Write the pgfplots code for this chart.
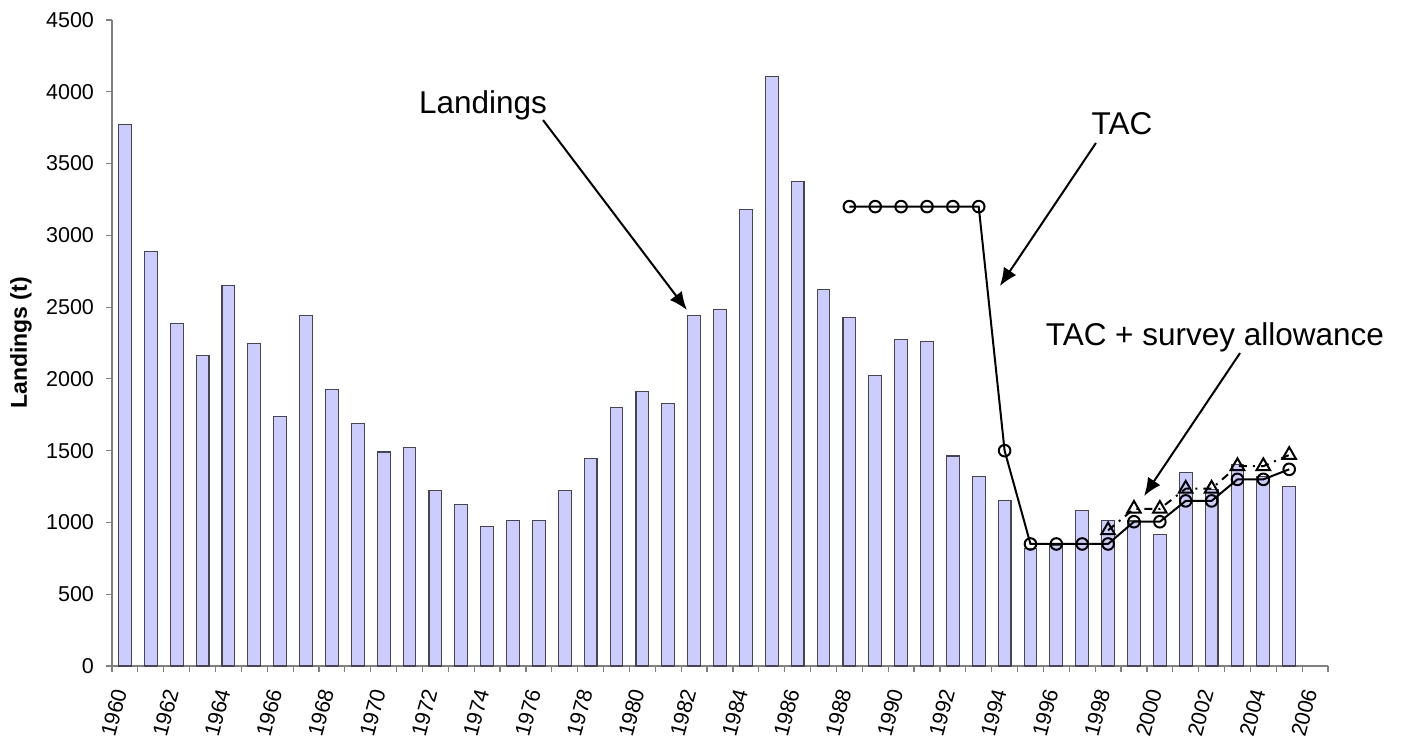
\documentclass[border=0pt]{standalone}
\usepackage{fontspec}
\setmainfont{Liberation Sans}
\usepackage{pgfplots}
\pgfplotsset{compat=1.18}
\usetikzlibrary{arrows.meta}
\definecolor{barfill}{RGB}{204,204,255}
\definecolor{baredge}{RGB}{70,70,80}
\definecolor{axgray}{RGB}{128,128,128}
\begin{document}
\begin{tikzpicture}
\begin{axis}[
  at={(0,0)}, anchor=south west,
  scale only axis, width=608pt, height=323pt,
  xmin=-0.5, xmax=46.5, ymin=0, ymax=4500,
  clip=false,
  axis x line*=bottom, axis y line*=left,
  axis line style={draw=axgray, line width=0.6pt},
  tick align=outside,
  ytick={0,500,...,4500},
  /pgf/number format/1000 sep={},
  /pgf/number format/assume math mode=true,
  ytick style={draw=axgray, line width=0.6pt},
  major tick length=3pt,
  minor tick length=3pt,
  xtick={0,2,...,46},
  xticklabels={1960,1962,1964,1966,1968,1970,1972,1974,1976,1978,1980,1982,1984,1986,1988,1990,1992,1994,1996,1998,2000,2002,2004,2006},
  major x tick style={draw=none},
  minor xtick={-0.5,0.5,...,46.5},
  minor x tick style={draw=axgray, line width=0.6pt},
  tick label style={font=\fontsize{10.75}{12}\selectfont, text=black},
  yticklabel style={xshift=-2.5pt},
  xticklabel style={xshift=-1.5pt, yshift=-5.5pt, rotate=75, anchor=east},
  ylabel={\bfseries Landings (t)},
  ylabel style={font=\fontsize{11.5}{13}\selectfont, at={(axis description cs:-0.0748,0.5)}, anchor=center},
]
\addplot[ybar, bar width=6.4pt, fill=barfill, draw=baredge, line width=0.55pt] coordinates {
(0,3775) (1,2890) (2,2388) (3,2163) (4,2650) (5,2246) (6,1740) (7,2441) (8,1923) (9,1689)
(10,1491) (11,1519) (12,1224) (13,1127) (14,973) (15,1013) (16,1013) (17,1224) (18,1447) (19,1798)
(20,1909) (21,1826) (22,2441) (23,2483) (24,3182) (25,4107) (26,3377) (27,2622) (28,2427) (29,2023)
(30,2274) (31,2260) (32,1463) (33,1322) (34,1155) (35,820) (36,843) (37,1085) (38,1015) (39,1010)
(40,918) (41,1350) (42,1230) (43,1405) (44,1320) (45,1252)
};
% TAC + survey allowance
\addplot[black, line width=1pt, dash pattern=on 4pt off 3pt on 1pt off 3pt,
  mark=triangle, mark size=3.9pt, mark options={solid, fill=white, line width=1pt}] coordinates {
(38,945) (39,1095) (40,1095) (41,1235) (42,1235) (43,1392) (44,1392) (45,1470)
};
% TAC
\addplot[black, line width=1pt, mark=o, mark size=2.9pt,
  mark options={fill=white, line width=1pt}] coordinates {
(28,3200) (29,3200) (30,3200) (31,3200) (32,3200) (33,3200) (34,1500)
(35,850) (36,850) (37,850) (38,850) (39,1005) (40,1005) (41,1150) (42,1150)
(43,1300) (44,1300) (45,1370)
};
\node[font=\fontsize{15.75}{18}\selectfont, anchor=base, inner sep=0pt] at (axis cs:13.84,3852) {Landings};
\draw[line width=1pt, -{Latex[length=9pt,width=7.5pt]}] (axis cs:16.16,3803) -- (axis cs:21.72,2480);
\node[font=\fontsize{15.75}{18}\selectfont, anchor=base, inner sep=0pt] at (axis cs:38.54,3699) {TAC};
\draw[line width=1pt, -{Latex[length=9pt,width=7.5pt]}] (axis cs:37.53,3643) -- (axis cs:33.82,2647);
\node[font=\fontsize{15.75}{18}\selectfont, anchor=base, inner sep=0pt] at (axis cs:42.13,2236) {TAC + survey allowance};
\draw[line width=1pt, -{Latex[length=9pt,width=7.5pt]}] (axis cs:43.10,2180) -- (axis cs:39.39,1184);
\end{axis}
\pgfresetboundingbox
\useasboundingbox (-56pt,-36pt) rectangle (648pt,333pt);
\end{tikzpicture}
\end{document}
